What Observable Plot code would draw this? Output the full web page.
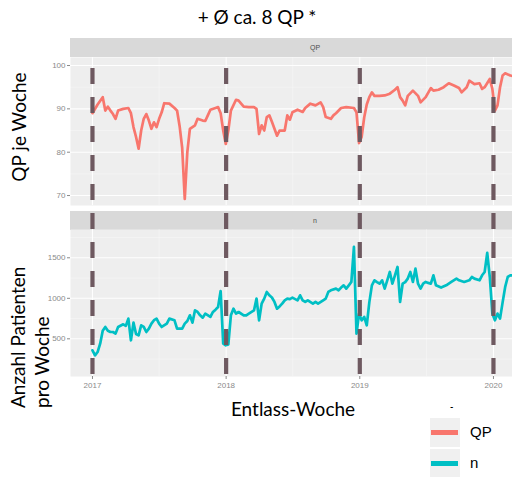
<!DOCTYPE html>
<html>
<head>
<meta charset="utf-8">
<script src="https://cdn.jsdelivr.net/npm/d3@7"></script>
<script src="https://cdn.jsdelivr.net/npm/@observablehq/plot@0.6"></script>
<style>
  html, body { margin: 0; padding: 0; background: #fff; }
  #wrap { position: relative; width: 512px; height: 477px; overflow: hidden; background: #fff; font-family: Lato, "Open Sans", sans-serif; }
  .strip { position: absolute; background: #d9d9d9; color: #4d4d4d; font: 7px "Liberation Sans", Arial, sans-serif; text-align: center; }
  .rot { position: absolute; white-space: nowrap; transform-origin: 0 0; transform: rotate(-90deg); color: #000; }
</style>
</head>
<body>
<div id="wrap"></div>
<script>
// ---- data (week index since 2017-01-01) ----
const series = ["QP", "n"];
const colors = ["#F8766D", "#00BFC4"];

const qpWeeks = [0,2,4,5,6,7,8,9,10,12,14,15,16,17,18,19,20,21,22,23,24,25,26,27,28,30,32,33,34,35,36,37,38,40,41,43,44,45,46,48,49,50,51,52,53,54,56,57,59,61,63,64,65,66,67,68,69,70,72,73,75,76,77,78,80,82,83,85,87,89,90,91,93,94,95,97,99,102,103,104,105,106,107,108,109,110,112,114,116,118,119,120,121,122,123,125,127,128,130,132,133,135,137,139,141,143,144,146,147,149,151,152,153,155,156,157,158,159,160,161,163,165];
const qpValues = [89,91,92.7,89.6,90.5,89.6,88.8,87.7,89.6,90,90.2,89,85.8,83.5,80.8,85,87.7,88.8,87.3,85.4,86.9,85.8,87.7,89.2,91.3,91.2,90.2,89.6,86,81,69.2,80,85.4,86.2,87.7,87.3,87.2,88.5,89.8,90.2,90.4,89,85,81.9,85,89.6,92.1,91.9,90.5,90.4,90.4,90,84.2,86.2,85,88.1,88.5,87,83.8,85,85,88.5,87.5,89.2,89.8,89.3,90.2,91.2,90.8,91.5,90.4,88.1,87.7,88.5,89,90.2,90.4,90.2,89.2,82.1,83.5,88,91,92.7,93.8,93,93,93.1,93.5,94.4,95,92.7,91.9,90.8,93,94.2,93,91.5,92.7,94.8,94.2,94.4,95,95.9,95.4,94.8,93.8,95,96.5,95.7,95.9,94.6,95,96.9,94.6,89.6,90.8,95,97.7,98.2,97.7,97.5];

const nWeeks = [0,1,2,3,4,5,6,7,8,9,10,12,13,14,15,16,17,18,19,20,21,22,23,24,25,26,27,29,30,32,33,35,36,37,38,39,40,41,42,43,44,46,47,48,49,50,51,52,53,54,55,56,57,59,60,61,63,64,65,66,67,68,69,70,71,72,73,74,75,76,77,78,80,81,82,83,84,86,87,88,90,91,92,93,95,96,97,98,99,100,101,102,103,104,105,106,107,108,109,110,111,112,113,114,115,116,117,118,119,120,121,122,123,124,125,126,127,128,129,130,131,132,133,134,136,138,140,142,143,145,147,148,149,151,152,153,154,155,156,157,158,159,160,161,162,163,165];
const nValues = [358,296,337,440,600,646,600,584,584,564,646,679,660,749,482,700,560,543,667,646,584,626,687,730,749,687,646,687,749,728,626,626,687,720,790,700,852,831,790,761,811,770,831,860,893,1090,440,420,430,790,872,811,831,790,790,811,850,996,728,934,996,1078,1037,1010,955,872,900,934,975,996,990,1008,975,1037,975,955,975,934,955,934,975,996,1078,1099,1119,1099,1132,1160,1119,1160,1202,1634,564,811,728,770,667,950,1160,1222,1200,1180,1222,1119,1222,1325,1180,1284,1387,955,1180,1200,1243,1325,1202,1366,1180,1119,1180,1202,1190,1180,1284,1160,1132,1160,1202,1243,1222,1202,1222,1263,1243,1222,1284,1325,1560,1263,811,728,811,749,950,1140,1263,1284,1280];

const yearLabels = ["2017", "2018", "2019", "2020"];
const halfYearLabels = ["2017-07-02", "2018-07-02", "2019-07-02"];
const qpTicks = [70, 80, 90, 100];
const qpMinor = [75, 85, 95];
const nTicks = [500, 1000, 1500];
const nMinor = [250, 750, 1250, 1750];

// ---- helpers ----
const week0 = Date.UTC(2017, 0, 1);
const toDate = w => new Date(week0 + w * 7 * 864e5);
const qpData = qpWeeks.map((w, i) => ({date: toDate(w), value: qpValues[i]}));
const nData = nWeeks.map((w, i) => ({date: toDate(w), value: nValues[i]}));
const yearDates = yearLabels.map(y => new Date(Date.UTC(+y, 0, 1)));
const halfDates = halfYearLabels.map(s => new Date(s));
const xDomain = [new Date("2016-11-02"), new Date("2020-02-22")];

const wrap = document.getElementById("wrap");
const tickColor = "#8a8a8a";
const panelFill = "#eeeeee";
const baseStyle = {fontSize: "8px", fontFamily: "Liberation Sans, Arial, sans-serif", background: "transparent", overflow: "visible"};

function panel(data, yDomain, ticks, minor, stroke, showX, height, marginBottom, marginTop) {
  return Plot.plot({
    width: 512, height, marginLeft: 70, marginRight: 0, marginTop, marginBottom,
    style: baseStyle,
    x: {type: "utc", domain: xDomain, axis: null},
    y: {domain: yDomain, axis: null},
    marks: [
      Plot.frame({fill: panelFill, stroke: null}),
      Plot.gridY(minor, {stroke: "#fff", strokeOpacity: 0.55, strokeWidth: 0.6}),
      Plot.gridY(ticks, {stroke: "#fff", strokeOpacity: 0.9, strokeWidth: 1.1}),
      Plot.gridX(halfDates, {stroke: "#fff", strokeOpacity: 0.55, strokeWidth: 0.6}),
      Plot.gridX(yearDates, {stroke: "#fff", strokeOpacity: 0.9, strokeWidth: 1.1}),
      Plot.lineY(data, {x: "date", y: "value", stroke, strokeWidth: 2.7, strokeLinejoin: "round"}),
      Plot.axisY(ticks, {tickSize: 3, tickPadding: 2, color: tickColor, label: null, fontSize: 8, tickFormat: d => String(d)}),
      showX ? Plot.axisX(yearDates, {tickSize: 3, tickPadding: 3, color: tickColor, label: null, fontSize: 8,
        tickFormat: d => String(d.getUTCFullYear())}) : null
    ]
  });
}

function place(el, left, top) {
  el.style.position = "absolute";
  el.style.left = left + "px";
  el.style.top = top + "px";
  wrap.appendChild(el);
  return el;
}

// title
const title = document.createElement("div");
title.textContent = "+ Ø ca. 8 QP *";
title.style.cssText = "position:absolute;left:0;width:514px;top:5px;text-align:center;font:19px Lato, sans-serif;color:#000;";
wrap.appendChild(title);

// strips
function strip(label, top) {
  const s = document.createElement("div");
  s.className = "strip";
  s.style.left = "70px"; s.style.top = top + "px"; s.style.width = "490px"; s.style.height = "19px";
  s.style.lineHeight = "19px";
  s.textContent = label;
  wrap.appendChild(s);
}
strip(series[0], 38);
strip(series[1], 211);

// panels
place(panel(qpData, [67.7, 101.85], qpTicks, qpMinor, colors[0], false, 167, 0, 19), 0, 38);
place(panel(nData, [35, 1849], nTicks, nMinor, colors[1], true, 185, 20, 18), 0, 211);

// dashed year lines overlay
const overlay = Plot.plot({
  width: 512, height: 308, marginLeft: 70, marginRight: 0, marginTop: 0, marginBottom: 0,
  style: baseStyle,
  x: {type: "utc", domain: xDomain, axis: null},
  marks: [Plot.ruleX(yearDates, {stroke: "#6e5960", strokeWidth: 4.2, strokeDasharray: "16,13"})]
});
place(overlay, 0, 68);

// axis titles
const yt1 = document.createElement("div");
yt1.textContent = "QP je Woche";
yt1.style.cssText = "position:absolute;left:18px;top:127px;white-space:nowrap;font:19px Lato, sans-serif;color:#000;transform:translate(-50%,-50%) rotate(-90deg);";
wrap.appendChild(yt1);

function rotLine(text, cx, bottom) {
  const d = document.createElement("div");
  d.className = "rot";
  d.textContent = text;
  d.style.font = "19px Lato, sans-serif";
  d.style.lineHeight = "22px";
  d.style.left = (cx - 11) + "px";
  d.style.top = bottom + "px";
  wrap.appendChild(d);
}
rotLine("Anzahl Patienten", 18, 408);
rotLine("pro Woche", 42, 408);

const xt = document.createElement("div");
xt.textContent = "Entlass-Woche";
xt.style.cssText = "position:absolute;left:193px;width:200px;top:397px;text-align:center;font:19px Lato, sans-serif;color:#000;";
wrap.appendChild(xt);

// legend
const dash = document.createElement("div");
dash.textContent = "-";
dash.style.cssText = "position:absolute;left:450px;top:401px;font:bold 9px Lato, sans-serif;color:#000;";
wrap.appendChild(dash);
series.forEach((s, i) => {
  const top = 418 + i * 31;
  const key = document.createElement("div");
  key.style.cssText = `position:absolute;left:430px;top:${top}px;width:30px;height:29px;background:#f0f0f0;`;
  const sw = document.createElement("div");
  sw.style.cssText = `position:absolute;left:1px;top:12px;width:27px;height:5px;background:${colors[i]};`;
  key.appendChild(sw);
  wrap.appendChild(key);
  const lab = document.createElement("div");
  lab.textContent = s;
  lab.style.cssText = `position:absolute;left:470px;top:${top + 5}px;font:15px "Liberation Sans", Arial, sans-serif;color:#000;line-height:18px;`;
  wrap.appendChild(lab);
});
</script>
</body>
</html>
